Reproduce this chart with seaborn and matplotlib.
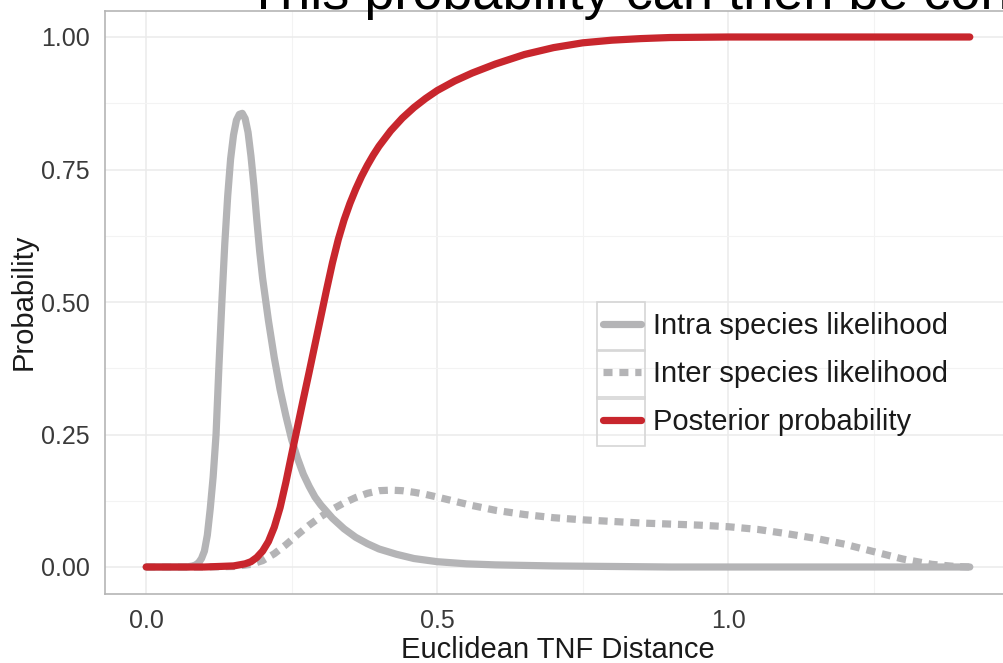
import matplotlib
matplotlib.use("Agg")
import matplotlib.pyplot as plt
from matplotlib.patches import Rectangle
from matplotlib.ticker import MultipleLocator
import seaborn as sns
import pandas as pd

# curves
intra_x = [0.00, 0.05, 0.07, 0.08, 0.085, 0.09, 0.095, 0.10, 0.105, 0.11,
           0.115, 0.12, 0.125, 0.13, 0.135, 0.14, 0.145, 0.15, 0.155, 0.16,
           0.165, 0.17, 0.175, 0.18, 0.185, 0.19, 0.195, 0.20, 0.21, 0.22,
           0.23, 0.24, 0.25, 0.26, 0.27, 0.28, 0.29, 0.30, 0.32, 0.34,
           0.36, 0.38, 0.40, 0.43, 0.46, 0.50, 0.55, 0.60, 0.70, 0.80,
           0.90, 1.00, 1.20, 1.415]
intra_y = [0.000, 0.000, 0.000, 0.002, 0.004, 0.008, 0.016, 0.030, 0.060, 0.110,
           0.170, 0.250, 0.380, 0.500, 0.610, 0.700, 0.770, 0.815, 0.843, 0.854,
           0.856, 0.846, 0.820, 0.775, 0.720, 0.655, 0.595, 0.545, 0.465, 0.395,
           0.335, 0.285, 0.240, 0.205, 0.175, 0.152, 0.132, 0.117, 0.092, 0.072,
           0.056, 0.044, 0.034, 0.024, 0.016, 0.010, 0.006, 0.004, 0.002, 0.001,
           0.000, 0.000, 0.000, 0.000]

inter_x = [0.00, 0.10, 0.15, 0.18, 0.20, 0.22, 0.24, 0.26, 0.28, 0.30,
           0.32, 0.34, 0.36, 0.38, 0.40, 0.42, 0.44, 0.46, 0.48, 0.50,
           0.53, 0.56, 0.60, 0.65, 0.70, 0.75, 0.80, 0.85, 0.90, 0.95,
           1.00, 1.05, 1.10, 1.15, 1.20, 1.25, 1.30, 1.35, 1.39, 1.415]
inter_y = [0.000, 0.000, 0.001, 0.005, 0.012, 0.025, 0.042, 0.061, 0.079, 0.095,
           0.109, 0.121, 0.131, 0.139, 0.144, 0.145, 0.144, 0.141, 0.137, 0.132,
           0.124, 0.116, 0.107, 0.099, 0.093, 0.089, 0.086, 0.083, 0.081, 0.079,
           0.076, 0.071, 0.063, 0.054, 0.043, 0.029, 0.015, 0.005, 0.001, 0.000]

post_x = [0.00, 0.10, 0.15, 0.17, 0.18, 0.19, 0.20, 0.21, 0.22, 0.23,
          0.24, 0.25, 0.26, 0.27, 0.28, 0.29, 0.30, 0.31, 0.32, 0.33,
          0.34, 0.35, 0.36, 0.37, 0.38, 0.39, 0.40, 0.42, 0.44, 0.46,
          0.48, 0.50, 0.53, 0.56, 0.60, 0.65, 0.70, 0.75, 0.80, 0.85,
          0.90, 1.00, 1.20, 1.415]
post_y = [0.000, 0.000, 0.002, 0.006, 0.010, 0.018, 0.030, 0.048, 0.075, 0.112,
          0.160, 0.213, 0.265, 0.317, 0.368, 0.420, 0.472, 0.524, 0.574, 0.618,
          0.655, 0.686, 0.713, 0.737, 0.758, 0.777, 0.794, 0.823, 0.847, 0.867,
          0.884, 0.899, 0.917, 0.932, 0.949, 0.967, 0.980, 0.989, 0.994, 0.997,
          0.999, 1.000, 1.000, 1.000]

labels = ["Intra species likelihood", "Inter species likelihood", "Posterior probability"]
colors = ["#b4b4b6", "#b4b4b6", "#c8262d"]
dash_inter = (1.25, 0.95)

df = pd.concat([
    pd.DataFrame({"x": intra_x, "y": intra_y, "curve": labels[0]}),
    pd.DataFrame({"x": inter_x, "y": inter_y, "curve": labels[1]}),
    pd.DataFrame({"x": post_x, "y": post_y, "curve": labels[2]}),
])

sns.set_style("white")
plt.rcParams["font.family"] = ["Liberation Sans", "DejaVu Sans"]

W, H = 1004, 663
fig = plt.figure(figsize=(W / 100, H / 100), dpi=100)
ax = fig.add_axes([105 / W, 1 - 593.5 / H, (1011 - 105) / W, (593.5 - 10.5) / H])

sns.lineplot(data=df, x="x", y="y", hue="curve", style="curve",
             palette=dict(zip(labels, colors)),
             dashes={labels[0]: "", labels[1]: dash_inter, labels[2]: ""},
             linewidth=5.2, ax=ax, legend=False, sort=False, estimator=None)
for ln in ax.get_lines():
    ln.set_dash_capstyle("butt")
    ln.set_solid_joinstyle("round")

ax.set_xlim(-0.0708, 1.4858)
ax.set_ylim(-0.05, 1.05)
ax.set_xticks([0.0, 0.5, 1.0])
ax.set_xticklabels(["0.0", "0.5", "1.0"])
ax.set_yticks([0.0, 0.25, 0.5, 0.75, 1.0])
ax.set_yticklabels(["0.00", "0.25", "0.50", "0.75", "1.00"])
ax.xaxis.set_minor_locator(MultipleLocator(0.25))
ax.yaxis.set_minor_locator(MultipleLocator(0.125))
ax.grid(which="major", color="#ebebeb", linewidth=1.1)
ax.grid(which="minor", color="#f3f3f3", linewidth=0.8)
ax.set_axisbelow(True)
ax.tick_params(which="major", length=6, width=1.4, color="#333333",
               labelcolor="#3a3a3a", labelsize=18, pad=5)
ax.tick_params(which="minor", length=0)
for sp in ax.spines.values():
    sp.set_color("#b5b5b5")
    sp.set_linewidth(1.2)

ax.set_xlabel("Euclidean TNF Distance", fontsize=21, color="#1a1a1a", labelpad=2)
ax.set_ylabel("Probability", fontsize=21, color="#1a1a1a", labelpad=2)

handles = [plt.Line2D([], [], color=colors[0], lw=5.2, linestyle="-"),
           plt.Line2D([], [], color=colors[1], lw=5.2, dashes=dash_inter,
                      dash_capstyle="butt"),
           plt.Line2D([], [], color=colors[2], lw=5.2, linestyle="-")]
leg = fig.legend(handles, labels, loc="center left",
                 bbox_to_anchor=(603 / W, 1 - 374 / H), frameon=False,
                 fontsize=21, handlelength=1.3, handletextpad=0.4,
                 labelspacing=0.68, borderpad=0, borderaxespad=0)
for t in leg.get_texts():
    t.set_color("#1a1a1a")

# grey boxes around legend keys
fig.canvas.draw()
r = fig.canvas.get_renderer()
for t in leg.get_texts():
    bb = t.get_window_extent(r)
    cy = (bb.y0 + bb.y1) / 2
    fig.patches.append(Rectangle((597 / W, (cy - 24.5) / H), 48 / W, 49 / H,
                                 transform=fig.transFigure, facecolor="none",
                                 edgecolor="#d6d6d6", linewidth=1.2, zorder=4))

fig.text(247 / W, 1 - 9 / H, "This probability can then be converted",
         fontsize=39, ha="left", va="baseline", color="black")

fig.savefig("out.png", dpi=100)
